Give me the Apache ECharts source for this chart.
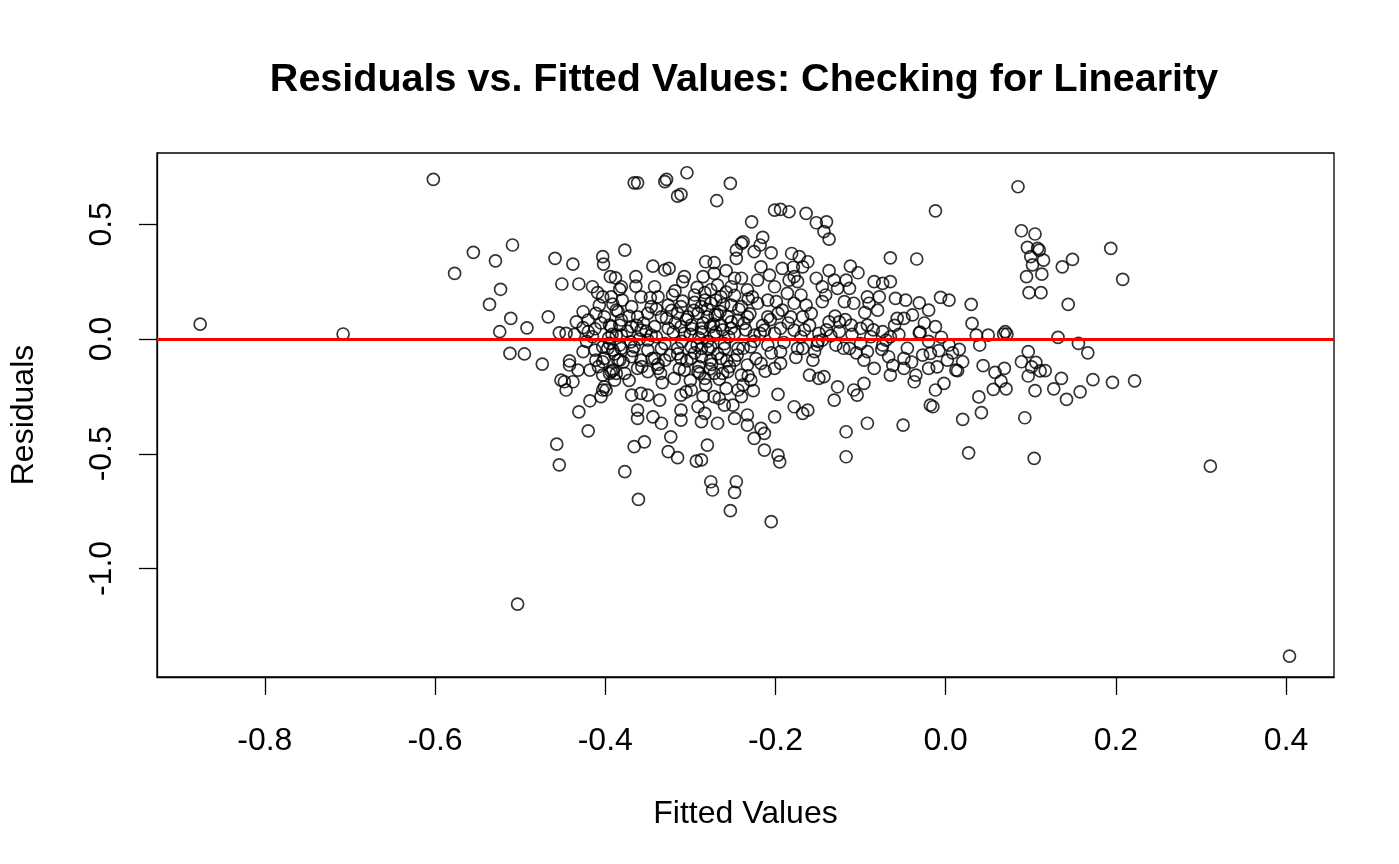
<!DOCTYPE html>
<html>

<head>
    <meta charset="UTF-8">
    <title>Residuals vs. Fitted Values</title>
    <script src="https://cdn.jsdelivr.net/npm/echarts@6.0.0/dist/echarts.min.js"></script>
    <style>
        html, body { margin: 0; padding: 0; background: #fff; }
    </style>
</head>

<body>
    <div id="main" style="width: 1399px; height: 864px;"></div>
    <script>
        // [fitted, residual] pairs
        const outliers = [
            [-0.876, 0.065], [-0.708, 0.022], [-0.602, 0.696], [-0.577, 0.286],
            [-0.503, -1.155], [0.311, -0.554], [0.404, -1.382]
        ];

        const leftCluster = [
            [-0.555, 0.378], [-0.529, 0.341], [-0.509, 0.410], [-0.523, 0.217], [-0.536, 0.151],
            [-0.511, 0.090], [-0.524, 0.032], [-0.492, 0.049], [-0.467, 0.097], [-0.459, 0.352],
            [-0.438, 0.327], [-0.451, 0.240], [-0.431, 0.240], [-0.415, 0.228], [-0.403, 0.359],
            [-0.402, 0.327], [-0.394, 0.272], [-0.388, 0.267], [-0.377, 0.388], [-0.409, 0.202],
            [-0.403, 0.184], [-0.393, 0.184], [-0.383, 0.217], [-0.407, 0.148], [-0.391, 0.152],
            [-0.387, 0.126], [-0.426, 0.119], [-0.434, 0.075], [-0.420, 0.083], [-0.411, 0.112],
            [-0.395, 0.061], [-0.383, 0.061], [-0.454, 0.027], [-0.446, 0.025], [-0.436, 0.020],
            [-0.420, 0.032], [-0.387, 0.017],
            [-0.512, -0.062], [-0.495, -0.065], [-0.474, -0.109], [-0.442, -0.095], [-0.442, -0.113],
            [-0.426, -0.055], [-0.432, -0.135], [-0.418, -0.135], [-0.452, -0.179], [-0.448, -0.186],
            [-0.438, -0.186], [-0.446, -0.222], [-0.403, -0.222], [-0.399, -0.222], [-0.405, -0.251],
            [-0.418, -0.269], [-0.431, -0.317], [-0.420, -0.400], [-0.457, -0.458], [-0.454, -0.548],
            [-0.377, -0.578], [-0.412, -0.048], [-0.411, -0.092], [-0.403, -0.099], [-0.391, -0.135],
            [-0.387, -0.150], [-0.395, -0.150], [-0.403, -0.157], [-0.389, -0.179], [-0.383, -0.092],
            [-0.391, -0.048], [-0.403, -0.034], [-0.395, -0.019], [-0.383, -0.026]
        ];

        const coreUpper = [
            [-0.366, 0.681], [-0.362, 0.681], [-0.330, 0.686], [-0.328, 0.696], [-0.304, 0.725],
            [-0.315, 0.623], [-0.311, 0.631], [-0.253, 0.679], [-0.269, 0.603], [-0.201, 0.562],
            [-0.194, 0.565], [-0.184, 0.555], [-0.228, 0.511], [-0.238, 0.424], [-0.240, 0.417],
            [-0.215, 0.443], [-0.218, 0.410], [-0.246, 0.388], [-0.225, 0.381], [-0.205, 0.376],
            [-0.181, 0.373], [-0.246, 0.352], [-0.282, 0.337], [-0.272, 0.333], [-0.344, 0.318],
            [-0.325, 0.308], [-0.330, 0.301], [-0.217, 0.315], [-0.192, 0.308], [-0.179, 0.313],
            [-0.364, 0.272], [-0.307, 0.272], [-0.309, 0.250], [-0.285, 0.272], [-0.272, 0.286],
            [-0.258, 0.298], [-0.248, 0.265], [-0.240, 0.265], [-0.207, 0.279], [-0.221, 0.257],
            [-0.184, 0.257], [-0.178, 0.272], [-0.342, 0.228], [-0.364, 0.231], [-0.381, 0.228],
            [-0.268, 0.235], [-0.252, 0.228], [-0.201, 0.228], [-0.233, 0.214], [-0.186, 0.199],
            [-0.358, 0.184], [-0.338, 0.184], [-0.321, 0.192], [-0.295, 0.192], [-0.283, 0.202],
            [-0.264, 0.184], [-0.227, 0.184], [-0.209, 0.170], [-0.199, 0.163], [-0.178, 0.156],
            [-0.369, 0.141], [-0.346, 0.141], [-0.326, 0.148], [-0.311, 0.141], [-0.287, 0.141],
            [-0.276, 0.156], [-0.252, 0.148], [-0.240, 0.141], [-0.221, 0.156], [-0.192, 0.126],
            [-0.401, 0.097], [-0.381, 0.083], [-0.362, 0.097], [-0.350, 0.112], [-0.334, 0.097],
            [-0.315, 0.112], [-0.303, 0.097], [-0.291, 0.112], [-0.280, 0.097], [-0.268, 0.105],
            [-0.256, 0.097], [-0.244, 0.083], [-0.233, 0.097], [-0.209, 0.097], [-0.197, 0.112],
            [-0.182, 0.097], [-0.393, 0.054], [-0.369, 0.054], [-0.358, 0.039], [-0.342, 0.054],
            [-0.326, 0.047], [-0.311, 0.054], [-0.299, 0.061], [-0.287, 0.047], [-0.276, 0.054],
            [-0.264, 0.061], [-0.252, 0.047], [-0.237, 0.068], [-0.213, 0.039], [-0.194, 0.047],
            [-0.178, 0.039], [-0.381, 0.017], [-0.346, 0.017], [-0.307, 0.025], [-0.272, 0.017],
            [-0.248, 0.025], [-0.225, 0.017], [-0.201, 0.025]
        ];

        const coreLower = [
            [-0.397, -0.041], [-0.381, -0.041], [-0.366, -0.034], [-0.350, -0.048], [-0.334, -0.041],
            [-0.315, -0.041], [-0.299, -0.034], [-0.287, -0.041], [-0.276, -0.034], [-0.260, -0.041],
            [-0.244, -0.041], [-0.229, -0.034], [-0.209, -0.026], [-0.194, -0.055], [-0.174, -0.041],
            [-0.401, -0.084], [-0.385, -0.092], [-0.369, -0.077], [-0.358, -0.092], [-0.342, -0.084],
            [-0.330, -0.092], [-0.311, -0.084], [-0.299, -0.084], [-0.287, -0.077], [-0.276, -0.092],
            [-0.264, -0.084], [-0.248, -0.092], [-0.233, -0.113], [-0.217, -0.106], [-0.201, -0.128],
            [-0.194, -0.106], [-0.393, -0.142], [-0.377, -0.150], [-0.362, -0.128], [-0.350, -0.142],
            [-0.338, -0.128], [-0.319, -0.171], [-0.307, -0.135], [-0.291, -0.142], [-0.283, -0.171],
            [-0.272, -0.150], [-0.256, -0.142], [-0.240, -0.157], [-0.229, -0.179], [-0.401, -0.208],
            [-0.369, -0.244], [-0.358, -0.237], [-0.350, -0.244], [-0.336, -0.266], [-0.311, -0.244],
            [-0.299, -0.222], [-0.272, -0.251], [-0.266, -0.259], [-0.244, -0.222], [-0.240, -0.251],
            [-0.197, -0.241], [-0.362, -0.310], [-0.362, -0.346], [-0.344, -0.339], [-0.334, -0.367],
            [-0.311, -0.310], [-0.311, -0.353], [-0.291, -0.295], [-0.283, -0.324], [-0.287, -0.360],
            [-0.268, -0.367], [-0.260, -0.288], [-0.250, -0.288], [-0.248, -0.346], [-0.233, -0.331],
            [-0.233, -0.375], [-0.217, -0.389], [-0.213, -0.411], [-0.201, -0.339], [-0.178, -0.295],
            [-0.323, -0.426], [-0.225, -0.433], [-0.213, -0.484], [-0.354, -0.448], [-0.366, -0.469],
            [-0.280, -0.462], [-0.326, -0.491], [-0.315, -0.517], [-0.293, -0.532], [-0.287, -0.527],
            [-0.197, -0.506], [-0.195, -0.535], [-0.276, -0.622], [-0.274, -0.658], [-0.246, -0.622],
            [-0.248, -0.668], [-0.361, -0.699], [-0.253, -0.748], [-0.205, -0.796]
        ];

        // extra points where the core is too dense to separate
        const coreDense = [
            [-0.300, 0.020], [-0.290, 0.005], [-0.280, -0.010], [-0.270, 0.030], [-0.260, -0.020],
            [-0.285, 0.070], [-0.295, -0.060], [-0.275, -0.110], [-0.265, 0.120], [-0.255, 0.010],
            [-0.310, -0.010], [-0.320, 0.030], [-0.330, -0.020], [-0.340, 0.010], [-0.350, -0.005],
            [-0.360, 0.000], [-0.370, -0.012], [-0.305, 0.085], [-0.315, -0.065], [-0.245, -0.070],
            [-0.235, 0.040], [-0.225, -0.010], [-0.215, 0.060], [-0.205, -0.060], [-0.290, -0.120],
            [-0.280, 0.130], [-0.262, -0.150], [-0.300, -0.180], [-0.270, 0.170], [-0.282, -0.200],
            [-0.258, 0.205], [-0.295, 0.160], [-0.243, 0.130], [-0.232, -0.160], [-0.322, 0.125],
            [-0.338, -0.110], [-0.355, 0.070], [-0.372, 0.100], [-0.392, 0.020], [-0.412, 0.045],
            [-0.422, -0.010], [-0.170, 0.010], [-0.160, 0.060], [-0.150, -0.010], [-0.140, 0.040],
            [-0.130, 0.100], [-0.120, -0.040], [-0.110, 0.020], [-0.100, -0.020], [-0.085, 0.040],
            [-0.070, -0.005], [-0.060, 0.060], [-0.045, -0.040], [-0.030, 0.030], [-0.020, -0.010],
            [-0.005, 0.008],
            [-0.298, 0.045], [-0.292, -0.025], [-0.286, 0.030], [-0.279, -0.045], [-0.273, 0.065],
            [-0.268, -0.065], [-0.262, 0.040], [-0.257, -0.095], [-0.252, 0.075], [-0.304, -0.095],
            [-0.296, 0.125], [-0.289, -0.150], [-0.283, 0.170], [-0.277, -0.130], [-0.271, 0.105],
            [-0.266, -0.175], [-0.261, 0.150], [-0.254, -0.120], [-0.309, 0.165], [-0.313, -0.130],
            [-0.318, 0.070], [-0.324, -0.070], [-0.328, 0.090], [-0.335, -0.150], [-0.340, 0.130],
            [-0.345, -0.085], [-0.352, 0.035], [-0.357, -0.120], [-0.363, 0.060], [-0.368, -0.050],
            [-0.374, 0.035], [-0.379, -0.100], [-0.385, 0.120], [-0.389, -0.065], [-0.396, 0.005],
            [-0.405, 0.070], [-0.408, -0.120], [-0.415, 0.010], [-0.426, 0.050], [-0.238, -0.040],
            [-0.230, 0.110], [-0.223, -0.085], [-0.218, 0.025], [-0.212, -0.140], [-0.206, 0.085],
            [-0.190, -0.015], [-0.185, 0.070], [-0.176, -0.080], [-0.166, 0.040], [-0.248, 0.190],
            [-0.238, -0.200], [-0.292, 0.225], [-0.285, -0.250], [-0.276, 0.215], [-0.258, -0.215],
            [-0.232, 0.175], [-0.226, -0.225], [-0.305, -0.230], [-0.318, 0.210], [-0.333, -0.190],
            [-0.347, 0.180], [-0.372, -0.180], [-0.380, 0.170],
            [-0.145, -0.005], [-0.135, 0.015], [-0.118, 0.085], [-0.105, -0.060], [-0.088, 0.010],
            [-0.075, -0.045], [-0.055, 0.020], [-0.040, -0.100], [-0.025, 0.070], [-0.008, -0.050],
            [0.008, -0.060], [-0.095, 0.115], [-0.062, -0.115]
        ];

        const rightMid = [
            [-0.164, 0.548], [-0.152, 0.507], [-0.140, 0.511], [-0.143, 0.468], [-0.137, 0.436],
            [-0.012, 0.559], [-0.065, 0.354], [-0.034, 0.349], [-0.172, 0.359], [-0.162, 0.337],
            [-0.168, 0.315], [-0.112, 0.318], [-0.103, 0.289], [-0.137, 0.298], [-0.152, 0.265],
            [-0.131, 0.257], [-0.117, 0.257], [-0.084, 0.250], [-0.074, 0.243], [-0.065, 0.250],
            [-0.174, 0.250], [-0.145, 0.228], [-0.127, 0.221], [-0.113, 0.221], [-0.141, 0.192],
            [-0.170, 0.192], [-0.092, 0.184], [-0.078, 0.184], [-0.059, 0.177], [-0.047, 0.170],
            [-0.031, 0.158], [-0.006, 0.182], [0.004, 0.170], [-0.164, 0.148], [-0.145, 0.163],
            [-0.119, 0.163], [-0.108, 0.156], [-0.090, 0.156], [-0.080, 0.126], [-0.020, 0.126],
            [-0.168, 0.097], [-0.158, 0.112], [-0.137, 0.075], [-0.125, 0.075], [-0.111, 0.061],
            [-0.100, 0.047], [-0.092, 0.061], [-0.057, 0.090], [-0.049, 0.090], [-0.039, 0.105],
            [-0.012, 0.054], [-0.149, 0.025], [-0.125, 0.032], [-0.074, 0.032], [-0.031, 0.027],
            [-0.065, 0.010],
            [-0.168, -0.041], [-0.154, -0.055], [-0.156, -0.092], [-0.151, -0.026], [-0.129, -0.026],
            [-0.113, -0.041], [-0.092, -0.055], [-0.096, -0.092], [-0.084, -0.128], [-0.074, -0.026],
            [-0.067, -0.077], [-0.065, -0.157], [-0.049, -0.084], [-0.049, -0.128], [-0.035, -0.157],
            [-0.037, -0.186], [-0.027, -0.070], [-0.018, -0.062], [-0.020, -0.128], [-0.010, -0.121],
            [0.002, -0.092], [0.004, -0.026], [0.012, -0.135], [-0.160, -0.157], [-0.149, -0.171],
            [-0.143, -0.164], [-0.127, -0.208], [-0.131, -0.266], [-0.108, -0.222], [-0.104, -0.244],
            [-0.096, -0.193], [-0.012, -0.222], [-0.002, -0.193], [-0.018, -0.288], [-0.015, -0.295],
            [-0.162, -0.310], [-0.168, -0.324], [-0.117, -0.404], [-0.092, -0.367], [-0.050, -0.375],
            [-0.117, -0.513]
        ];

        const rightCluster = [
            [0.085, 0.664], [0.089, 0.472], [0.105, 0.458], [0.096, 0.400], [0.108, 0.395],
            [0.110, 0.388], [0.100, 0.359], [0.115, 0.344], [0.102, 0.323], [0.137, 0.315],
            [0.149, 0.347], [0.194, 0.395], [0.208, 0.260], [0.095, 0.272], [0.113, 0.283],
            [0.098, 0.202], [0.112, 0.202], [0.144, 0.151], [0.030, 0.151], [0.031, 0.068],
            [0.036, 0.017], [0.050, 0.017], [0.040, -0.026], [0.070, 0.032], [0.072, 0.022],
            [0.068, 0.022], [0.132, 0.007], [0.156, -0.019], [0.167, -0.060], [0.016, -0.045],
            [0.020, -0.099], [0.014, -0.138], [0.044, -0.116], [0.058, -0.145], [0.069, -0.128],
            [0.065, -0.183], [0.056, -0.219], [0.071, -0.217], [0.039, -0.252], [0.097, -0.055],
            [0.089, -0.099], [0.106, -0.102], [0.101, -0.121], [0.111, -0.139], [0.117, -0.138],
            [0.097, -0.161], [0.136, -0.171], [0.127, -0.217], [0.105, -0.225], [0.142, -0.263],
            [0.158, -0.230], [0.173, -0.177], [0.196, -0.189], [0.222, -0.182], [0.042, -0.321],
            [0.020, -0.350], [0.093, -0.343], [0.027, -0.496], [0.104, -0.520]
        ];

        const xTicks = [-0.8, -0.6, -0.4, -0.2, 0.0, 0.2, 0.4];
        const yTicks = [-1.0, -0.5, 0.0, 0.5];

        const allPoints = [].concat(outliers, leftCluster, coreUpper, coreLower,
            coreDense, rightMid, rightCluster);

        const font = '"Liberation Sans", Arial, sans-serif';
        const fmt = v => Number(v).toFixed(1);

        const option = {
            backgroundColor: '#fff',
            animation: false,
            title: {
                text: 'Residuals vs. Fitted Values: Checking for Linearity',
                left: 744,
                top: 60,
                padding: 0,
                textAlign: 'center',
                textStyle: { fontFamily: font, fontSize: 39.5, fontWeight: 'bold', color: '#000' }
            },
            grid: {
                left: 155, right: 65, top: 153, bottom: 187,
                show: true,
                borderColor: '#000',
                borderWidth: 1.3,
                backgroundColor: 'transparent'
            },
            xAxis: {
                type: 'value',
                min: -0.9267,
                max: 0.4563,
                name: 'Fitted Values',
                nameLocation: 'middle',
                nameGap: 121,
                nameTextStyle: { fontFamily: font, fontSize: 32, color: '#000' },
                axisLine: { show: true, onZero: false, lineStyle: { color: '#000', width: 1.3 } },
                axisTick: { show: true, customValues: xTicks, length: 18, lineStyle: { color: '#000', width: 1.3 } },
                axisLabel: { customValues: xTicks, formatter: fmt, fontFamily: font, fontSize: 32, color: '#000', margin: 48 },
                splitLine: { show: false }
            },
            yAxis: {
                type: 'value',
                min: -1.473,
                max: 0.811,
                name: 'Residuals',
                nameLocation: 'middle',
                nameGap: 117,
                nameTextStyle: { fontFamily: font, fontSize: 32, color: '#000' },
                axisLine: { show: true, onZero: false, lineStyle: { color: '#000', width: 1.3 } },
                axisTick: { show: true, customValues: yTicks, length: 18, lineStyle: { color: '#000', width: 1.3 } },
                axisLabel: { customValues: yTicks, formatter: fmt, rotate: 90, fontFamily: font, fontSize: 32, color: '#000', margin: 39 },
                splitLine: { show: false }
            },
            series: [
                {
                    type: 'scatter',
                    data: allPoints,
                    symbol: 'circle',
                    symbolSize: 12,
                    itemStyle: { color: 'rgba(0,0,0,0)', borderColor: '#000', borderWidth: 1.7 },
                    emphasis: { disabled: true },
                    markLine: {
                        silent: true,
                        symbol: ['none', 'none'],
                        label: { show: false },
                        lineStyle: { color: '#ff0000', width: 3, type: 'solid' },
                        data: [{ yAxis: 0 }]
                    }
                }
            ]
        };

        const myChart = echarts.init(document.getElementById('main'));
        myChart.setOption(option);
    </script>
</body>

</html>
